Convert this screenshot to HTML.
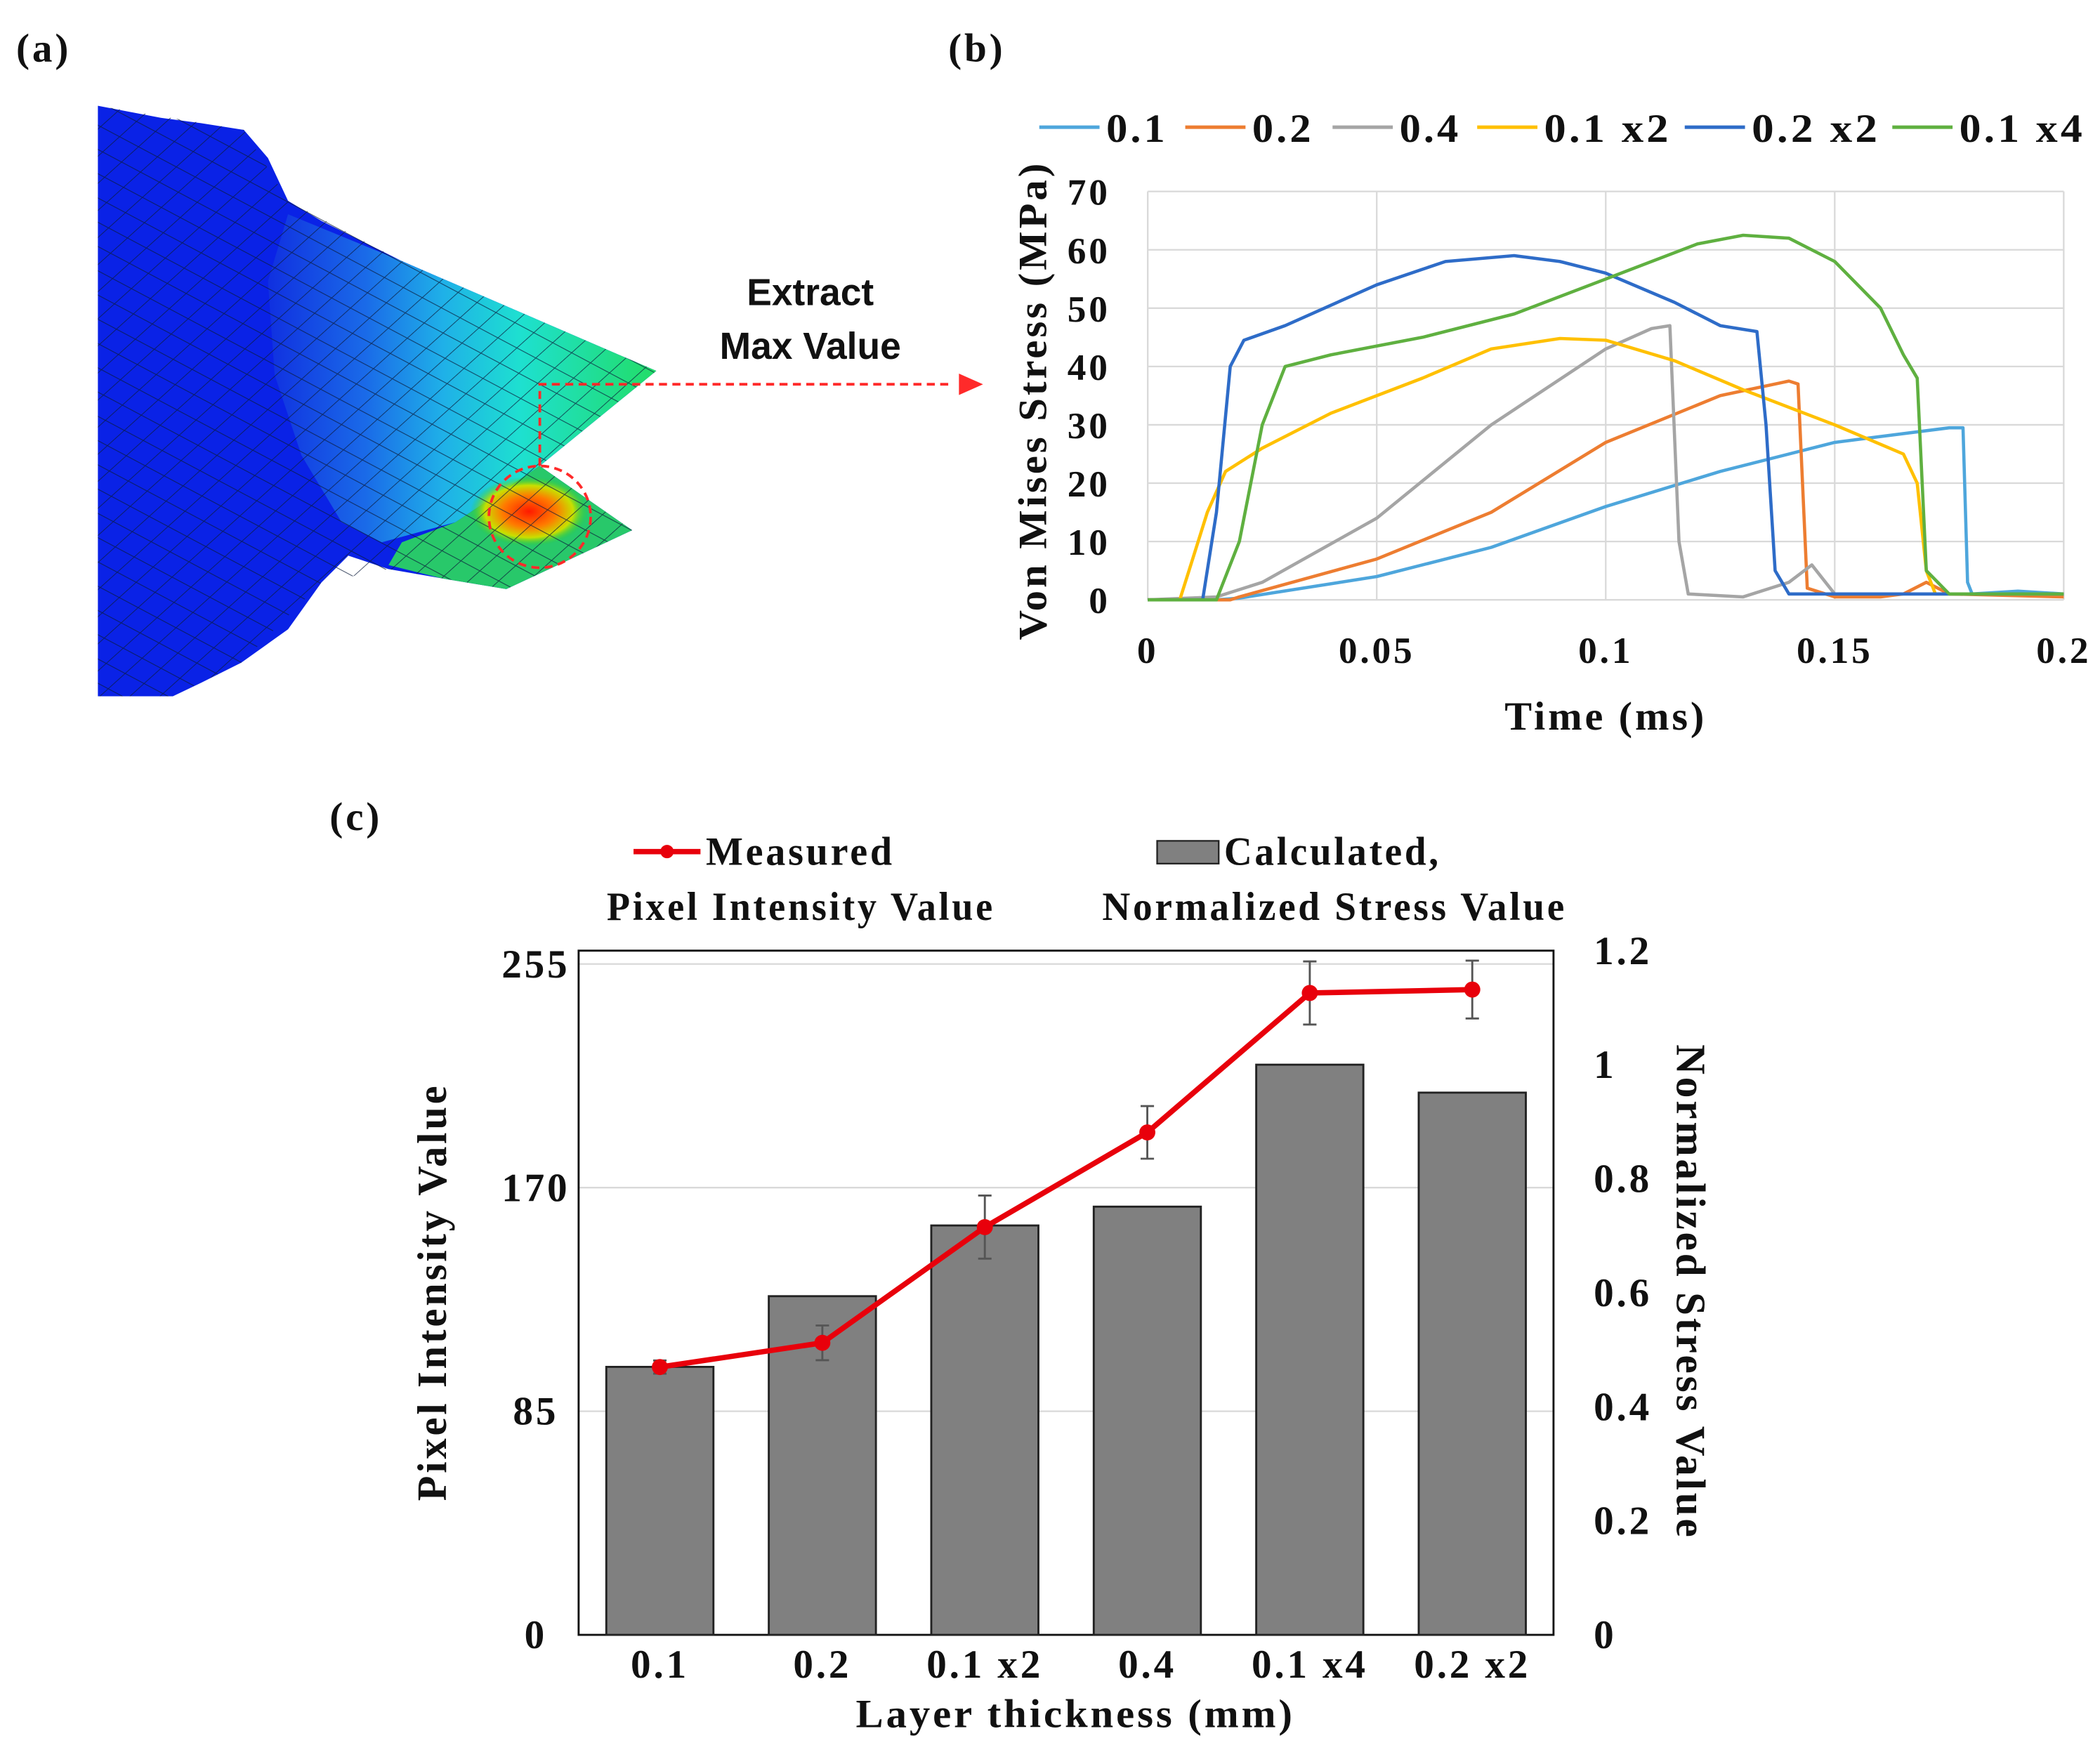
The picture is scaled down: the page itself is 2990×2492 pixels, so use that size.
<!DOCTYPE html>
<html><head><meta charset="utf-8"><style>
html,body{margin:0;padding:0;background:#fff;}
svg{display:block;}
.t{font-family:"Liberation Serif",serif;font-weight:bold;fill:#111;letter-spacing:2px;}
.s{font-family:"Liberation Sans",sans-serif;font-weight:bold;fill:#111;}
</style></head><body>
<svg id="fig" width="2990" height="2492" viewBox="0 0 1568 1307" xmlns="http://www.w3.org/2000/svg">
<defs>
<pattern id="mesh" width="16" height="16" patternUnits="userSpaceOnUse" patternTransform="rotate(28) skewX(-20)">
<path d="M0 0H16M0 0V16" stroke="#0a1a3a" stroke-width="1.1" fill="none" opacity="0.75"/>
</pattern>
<linearGradient id="wg" x1="0" y1="0" x2="1" y2="0">
<stop offset="0" stop-color="#1030e0"/><stop offset="0.25" stop-color="#1a6ae8"/><stop offset="0.45" stop-color="#1fb0e8"/><stop offset="0.65" stop-color="#1ee0d0"/><stop offset="1" stop-color="#22dd66"/>
</linearGradient>
<radialGradient id="hot" cx="0.5" cy="0.5" r="0.5">
<stop offset="0" stop-color="#ff1a00"/><stop offset="0.45" stop-color="#ff7a00"/><stop offset="0.75" stop-color="#c8e000"/><stop offset="1" stop-color="#22cc33" stop-opacity="0"/>
</radialGradient>
</defs>
<g>
<text class="t" x="12" y="46" font-size="30">(a)</text>
<polygon points="73,79 120,88 150,92 182,97 200,118 215,150 240,165 300,195 490,277 403,348 472,396 378,440 330,432 290,425 260,415 240,435 215,470 180,495 150,510 129,520 73,520" fill="#0a22e6"/>
<polygon points="215,160 300,195 490,277 403,348 340,390 285,405 255,390 225,340 205,280 200,210" fill="url(#wg)"/>
<polygon points="403,348 472,396 378,440 330,432 290,422 300,405 340,390" fill="#28c86a"/>
<ellipse cx="395" cy="382" rx="44" ry="26" fill="url(#hot)"/>
<polygon points="73,79 182,97 215,150 300,195 490,277 403,348 472,396 378,440 290,425 240,435 180,495 129,520 73,520" fill="url(#mesh)"/>
<circle cx="403" cy="386" r="38" fill="none" stroke="#ff2a2a" stroke-width="2" stroke-dasharray="6,4"/>
<path d="M403 348V287H712" fill="none" stroke="#ff2a2a" stroke-width="2" stroke-dasharray="6,4"/>
<polygon points="734,287 716,279 716,295" fill="#ff2a2a"/>
<text class="s" x="605" y="228" font-size="28" text-anchor="middle">Extract</text>
<text class="s" x="605" y="268" font-size="28" text-anchor="middle">Max Value</text>
</g>
<g id="pb">
<text class="t" x="708" y="46" font-size="30">(b)</text>
</g>
<g id="pc">
<text class="t" x="246" y="620" font-size="30">(c)</text>
</g>
</svg>
<script>
const NS='http://www.w3.org/2000/svg';
// ---------- Panel (b) data ----------
const bSeriesNames=['0.1','0.2','0.4','0.1 x2','0.2 x2','0.1 x4'];
const bColors=['#4ea6dc','#ed7d31','#a5a5a5','#ffc000','#2e6cc8','#5fb040'];
const bTime01=[0,0.015,0.02,0.05,0.075,0.1,0.125,0.15,0.175,0.178,0.179,0.18,0.19,0.2];
const bVal01=[0,0,0.3,4,9,16,22,27,29.5,29.5,3,1,1.5,1];
const bTime02=[0,0.018,0.02,0.05,0.075,0.1,0.125,0.14,0.142,0.144,0.15,0.16,0.165,0.17,0.175,0.2];
const bVal02=[0,0,0.5,7,15,27,35,37.5,37,2,0.5,0.5,1,3,1,0.5];
const bTime04=[0,0.015,0.025,0.05,0.075,0.1,0.11,0.114,0.116,0.118,0.13,0.14,0.145,0.15,0.2];
const bVal04=[0,0.5,3,14,30,43,46.5,47,10,1,0.5,3,6,1,1];
const bTime01x2=[0,0.007,0.009,0.013,0.017,0.025,0.04,0.06,0.075,0.09,0.1,0.115,0.13,0.15,0.165,0.168,0.17,0.172,0.2];
const bVal01x2=[0,0,5,15,22,26,32,38,43,44.8,44.5,41,36,30,25,20,5,1,1];
const bTime02x2=[0,0.012,0.015,0.018,0.021,0.03,0.05,0.065,0.08,0.09,0.1,0.115,0.125,0.133,0.135,0.137,0.14,0.2];
const bVal02x2=[0,0,15,40,44.5,47,54,58,59,58,56,51,47,46,30,5,1,1];
const bTime01x4=[0,0.015,0.02,0.025,0.03,0.04,0.06,0.08,0.1,0.12,0.13,0.14,0.15,0.16,0.165,0.168,0.17,0.175,0.2];
const bVal01x4=[0,0,10,30,40,42,45,49,55,61,62.5,62,58,50,42,38,5,1,1];
const bXTicks=[0,0.05,0.1,0.15,0.2];
const bXTickLabels=['0','0.05','0.1','0.15','0.2'];
const bYTicks=[0,10,20,30,40,50,60,70];
// ---------- Panel (c) data ----------
const cCategories=['0.1','0.2','0.1 x2','0.4','0.1 x4','0.2 x2'];
const cBarValues=[0.47,0.594,0.718,0.751,1.0,0.951];
const cLineValues=[101.8,111,155,191,244,245.3];
const cLineErrors=[2.5,6.6,12,10,12,11];
const cLeftTicks=[0,85,170,255];
const cRightTicks=[0,0.2,0.4,0.6,0.8,1,1.2];
const cRightTickLabels=['0','0.2','0.4','0.6','0.8','1','1.2'];

function mk(tag,attrs,parent,txt){const e=document.createElementNS(NS,tag);for(const k in attrs)e.setAttribute(k,attrs[k]);if(txt!==undefined)e.textContent=txt;parent.appendChild(e);return e;}

// ---------- Panel (b) ----------
const pb=document.getElementById('pb');
const bx=t=>857+(t/0.2)*(1541-857);
const by=v=>448-(v/70)*(448-143);
bXTicks.forEach((t,i)=>{
  const l=mk('line',{x1:bx(t),x2:bx(t),y1:143,y2:448,stroke:'#d9d9d9','stroke-width':1.2},pb);
  
  
  const tx=mk('text',{class:'t',x:bx(t),y:495,'font-size':28,'text-anchor':'middle'},pb,bXTickLabels[i]);
  
  
});
bYTicks.forEach(v=>{
  const l=mk('line',{x1:857,x2:1541,y1:by(v),y2:by(v),stroke:'#d9d9d9','stroke-width':1.2},pb);
  
  
  const tx=mk('text',{class:'t',x:829,y:by(v)+10,'font-size':28,'text-anchor':'end'},pb,String(v));
  
  
});
const bT=[bTime01,bTime02,bTime04,bTime01x2,bTime02x2,bTime01x4];
const bV=[bVal01,bVal02,bVal04,bVal01x2,bVal02x2,bVal01x4];
bT.forEach((ts,i)=>{
  const d=ts.map((t,j)=>(j?'L':'M')+bx(t).toFixed(1)+' '+by(bV[i][j]).toFixed(1)).join('');
  const p=mk('path',{d:d,fill:'none',stroke:bColors[i],'stroke-width':2.4,'stroke-linejoin':'round'},pb);
  
  
});
const legX=[776,885,995,1103,1258,1413];
const legW=[46,46,46,95,96,94];
bSeriesNames.forEach((n,i)=>{
  const g=mk('g',{},pb);
  
  
  mk('line',{x1:legX[i],x2:legX[i]+45,y1:95,y2:95,stroke:bColors[i],'stroke-width':2.6},g);
  mk('text',{class:'t',x:legX[i]+50,y:106,'font-size':30,textLength:legW[i],lengthAdjust:'spacingAndGlyphs'},g,n);
});
let tt=mk('text',{class:'t',x:1199,y:545,'font-size':30,'text-anchor':'middle',textLength:151,lengthAdjust:'spacingAndGlyphs'},pb,'Time (ms)');


tt=mk('text',{class:'t',x:0,y:0,'font-size':30,'text-anchor':'middle',textLength:358,lengthAdjust:'spacingAndGlyphs',transform:'translate(781,299) rotate(-90)'},pb,'Von Mises Stress (MPa)');



// ---------- Panel (c) ----------
const pc=document.getElementById('pc');
const X0=432,X1=1160,Y0=1221;
const band=(X1-X0)/cCategories.length;
const cx=i=>X0+band*(i+0.5);
const yl=v=>Y0-(v/255)*501;
const yr=v=>Y0-(v/1.2)*511;
cLeftTicks.forEach(v=>{
  if(v>0){const l=mk('line',{x1:X0,x2:X1,y1:yl(v),y2:yl(v),stroke:'#d9d9d9','stroke-width':1.2},pc);
  
  }
  const tx=mk('text',{class:'t',x:400,y:yl(v)+10,'font-size':30,'text-anchor':'middle'},pc,String(v));
  
  
});
cRightTicks.forEach((v,i)=>{
  const tx=mk('text',{class:'t',x:1190,y:yr(v)+10,'font-size':30},pc,cRightTickLabels[i]);
  
  
});
const frame=mk('rect',{x:X0,y:710,width:X1-X0,height:Y0-710,fill:'none',stroke:'#111','stroke-width':1.5},pc);


cBarValues.forEach((v,i)=>{
  const b=mk('rect',{x:cx(i)-40,y:yr(v),width:80,height:Y0-yr(v),fill:'#808080',stroke:'#222','stroke-width':1.5},pc);
  
  
  const tx=mk('text',{class:'t',x:cx(i),y:1253,'font-size':30,'text-anchor':'middle'},pc,cCategories[i]);
  
  
});
cLineValues.forEach((v,i)=>{
  const e=cLineErrors[i];
  const g=mk('path',{d:`M${cx(i)} ${yl(v+e)}V${yl(v-e)}M${cx(i)-5} ${yl(v+e)}h10M${cx(i)-5} ${yl(v-e)}h10`,stroke:'#555','stroke-width':1.5,fill:'none'},pc);
  
  
});
const ld=cLineValues.map((v,i)=>(i?'L':'M')+cx(i).toFixed(1)+' '+yl(v).toFixed(1)).join('');
const ln=mk('path',{d:ld,fill:'none',stroke:'#e8000b','stroke-width':4,'stroke-linejoin':'round'},pc);


cLineValues.forEach((v,i)=>{
  const c=mk('circle',{cx:cx(i),cy:yl(v),r:6,fill:'#e8000b'},pc);
  
  
});
// legend
let lg=mk('g',{},pc);


mk('line',{x1:473,x2:523,y1:636,y2:636,stroke:'#e8000b','stroke-width':4},lg);
mk('circle',{cx:498,cy:636,r:5,fill:'#e8000b'},lg);
mk('text',{class:'t',x:527,y:646,'font-size':30,textLength:141,lengthAdjust:'spacingAndGlyphs'},lg,'Measured');
mk('text',{class:'t',x:453,y:687,'font-size':30,textLength:290,lengthAdjust:'spacingAndGlyphs'},lg,'Pixel Intensity Value');
lg=mk('g',{},pc);


mk('rect',{x:864,y:628,width:46,height:17,fill:'#808080',stroke:'#222','stroke-width':1.2},lg);
mk('text',{class:'t',x:914,y:646,'font-size':30,textLength:162,lengthAdjust:'spacingAndGlyphs'},lg,'Calculated,');
mk('text',{class:'t',x:823,y:687,'font-size':30,textLength:347,lengthAdjust:'spacingAndGlyphs'},lg,'Normalized Stress Value');
tt=mk('text',{class:'t',x:803,y:1290,'font-size':30,'text-anchor':'middle',textLength:328,lengthAdjust:'spacingAndGlyphs'},pc,'Layer thickness (mm)');


tt=mk('text',{class:'t',x:0,y:0,'font-size':31,'text-anchor':'middle',textLength:312,lengthAdjust:'spacingAndGlyphs',transform:'translate(333,965) rotate(-90)'},pc,'Pixel Intensity Value');


tt=mk('text',{class:'t',x:0,y:0,'font-size':31,'text-anchor':'middle',textLength:370,lengthAdjust:'spacingAndGlyphs',transform:'translate(1252,965) rotate(90)'},pc,'Normalized Stress Value');


</script>
</body></html>
